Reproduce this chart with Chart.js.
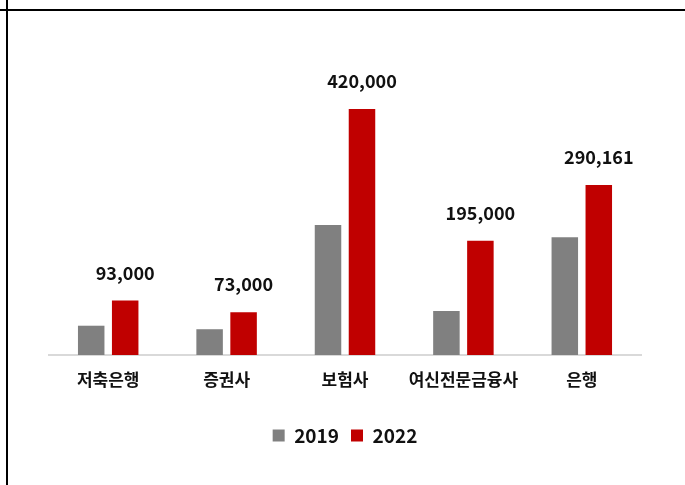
<!DOCTYPE html>
<html>
<head>
<meta charset="utf-8">
<script src="https://cdn.jsdelivr.net/npm/chart.js@4.4.0/dist/chart.umd.min.js"></script>
<style>
  html, body { margin: 0; padding: 0; background: #fff; }
  #wrap { position: relative; width: 685px; height: 485px; }
  #topLine { position: absolute; left: 0; top: 9px; width: 685px; height: 2px; background: #000; }
  #leftLine { position: absolute; left: 6px; top: 0; width: 2px; height: 485px; background: #000; }
</style>
</head>
<body>
<div id="wrap">
  <canvas id="myChart" width="685" height="485"></canvas>
  <div id="topLine"></div>
  <div id="leftLine"></div>
</div>
<script>
// categories and series
const categories = ['저축은행', '증권사', '보험사', '여신전문금융사', '은행'];
const values2019 = [50000, 44000, 222000, 75000, 201000];
const values2022 = [93000, 73000, 420000, 195000, 290161];
const labels2022 = ['93,000', '73,000', '420,000', '195,000', '290,161'];

const FONT = '"Noto Sans CJK KR", "Noto Sans", sans-serif';

// draws value labels above the 2022 bars
const valueLabels = {
    id: 'valueLabels',
    afterDatasetsDraw(chart) {
        const ctx = chart.ctx;
        const meta = chart.getDatasetMeta(1);
        ctx.save();
        ctx.font = '600 18px ' + FONT;
        ctx.fillStyle = '#111';
        ctx.textAlign = 'center';
        ctx.textBaseline = 'alphabetic';
        meta.data.forEach((bar, i) => {
            ctx.fillText(labels2022[i], bar.x, bar.y - 21);
        });
        ctx.restore();
    }
};

const ctx = document.getElementById('myChart').getContext('2d');
const myChart = new Chart(ctx, {
    type: 'bar',
    data: {
        labels: categories,
        datasets: [{
            label: '2019',
            data: values2019,
            backgroundColor: '#808080',
            categoryPercentage: 0.574,
            barPercentage: 0.78
        }, {
            label: '2022',
            data: values2022,
            backgroundColor: '#c00000',
            categoryPercentage: 0.574,
            barPercentage: 0.78
        }]
    },
    options: {
        responsive: false,
        animation: false,
        layout: {
            padding: { left: 49, right: 44, top: 20, bottom: 30 }
        },
        scales: {
            x: {
                grid: { display: false },
                border: { color: '#d9d9d9', width: 2 },
                ticks: {
                    color: '#111',
                    font: { family: FONT, size: 17, weight: 'bold' },
                    padding: 6
                },
                afterFit(scale) { scale.height = 59; }
            },
            y: {
                display: false,
                min: 0,
                max: 572000
            }
        },
        plugins: {
            legend: {
                position: 'bottom',
                labels: {
                    boxWidth: 12,
                    boxHeight: 12,
                    color: '#111',
                    font: { family: FONT, size: 19, weight: '600' },
                    padding: 12
                }
            },
            tooltip: { enabled: false }
        }
    },
    plugins: [valueLabels]
});
</script>
</body>
</html>
